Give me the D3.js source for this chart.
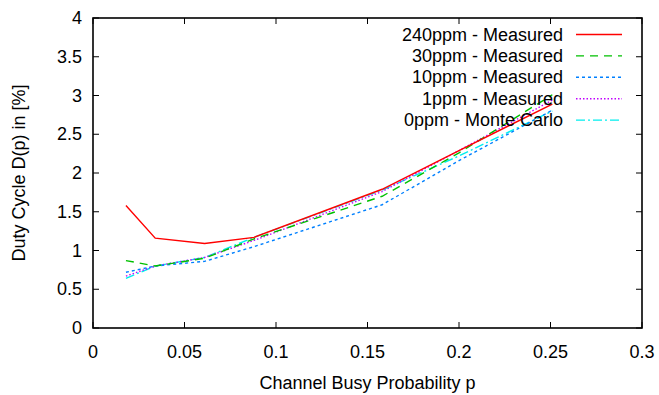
<!DOCTYPE html>
<html><head><meta charset="utf-8">
<script src="https://cdn.jsdelivr.net/npm/d3@7"></script>
<style>body{margin:0;background:#fff}svg{display:block}text{font-family:"Liberation Sans",Arial,Helvetica,sans-serif;fill:#000}</style>
</head><body><svg id="c" width="659" height="395"></svg>
<script>
const busyProb = [0.018, 0.034, 0.061, 0.088, 0.158, 0.2, 0.251];
const ppm240 = [1.58, 1.16, 1.09, 1.17, 1.79, 2.29, 2.89];
const ppm30  = [0.87, 0.80, 0.90, 1.15, 1.70, 2.26, 3.01];
const ppm10  = [0.72, 0.80, 0.86, 1.05, 1.59, 2.16, 2.81];
const ppm1   = [0.67, 0.80, 0.91, 1.13, 1.76, 2.29, 2.94];
const ppm0mc = [0.64, 0.80, 0.91, 1.17, 1.78, 2.22, 2.80];
const seriesNames = ["240ppm - Measured","30ppm - Measured","10ppm - Measured","1ppm - Measured","0ppm - Monte Carlo"];
const xTicks = [0,0.05,0.1,0.15,0.2,0.25,0.3];
const yTicks = [0,0.5,1,1.5,2,2.5,3,3.5,4];

const series = [
  {name: seriesNames[0], vals: ppm240, color:"#ff0000", dash:null},
  {name: seriesNames[1], vals: ppm30,  color:"#00c000", dash:"8,6"},
  {name: seriesNames[2], vals: ppm10,  color:"#0080ff", dash:"3,3"},
  {name: seriesNames[3], vals: ppm1,   color:"#c000ff", dash:"1.5,2"},
  {name: seriesNames[4], vals: ppm0mc, color:"#00eeee", dash:"9,3,2,3"}
];

const L=93, R=642, T=18, B=328;
const svg = d3.select("#c");
const x = d3.scaleLinear().domain([0,0.3]).range([L,R]);
const y = d3.scaleLinear().domain([0,4]).range([B,T]);
const fs = 18;

const tk = svg.append("g").attr("stroke","#000").attr("stroke-width",1);
xTicks.forEach(v=>{
  tk.append("line").attr("x1",x(v)).attr("x2",x(v)).attr("y1",B).attr("y2",B-6);
  tk.append("line").attr("x1",x(v)).attr("x2",x(v)).attr("y1",T).attr("y2",T+6);
});
yTicks.forEach(v=>{
  tk.append("line").attr("x1",L).attr("x2",L+6).attr("y1",y(v)).attr("y2",y(v));
  tk.append("line").attr("x1",R).attr("x2",R-6).attr("y1",y(v)).attr("y2",y(v));
});
svg.selectAll(".xl").data(xTicks).enter().append("text")
  .attr("x",d=>x(d)).attr("y",B+30).attr("text-anchor","middle").attr("font-size",fs).text(d=>d3.format("")(d));
svg.selectAll(".yl").data(yTicks).enter().append("text")
  .attr("x",L-11).attr("y",d=>y(d)+6).attr("text-anchor","end").attr("font-size",fs).text(d=>d3.format("")(d));

svg.append("text").attr("x",(L+R)/2).attr("y",389).attr("text-anchor","middle").attr("font-size",fs)
  .text("Channel Busy Probability p");
svg.append("text").attr("transform",`translate(25,${(T+B)/2}) rotate(-90)`).attr("text-anchor","middle").attr("font-size",fs)
  .text("Duty Cycle D(p) in [%]");

const line = d3.line().x((d,i)=>x(busyProb[i])).y(d=>y(d));
series.slice().reverse().forEach(s=>{
  svg.append("path").attr("d",line(s.vals)).attr("fill","none").attr("stroke",s.color)
    .attr("stroke-width",1.4).attr("stroke-dasharray",s.dash);
});

series.forEach((s,i)=>{
  const ly = 34.5 + i*21.4;
  svg.append("text").attr("x",563).attr("y",ly+6).attr("text-anchor","end").attr("font-size",fs).text(s.name);
  svg.append("line").attr("x1",576).attr("x2",622).attr("y1",ly).attr("y2",ly)
    .attr("stroke",s.color).attr("stroke-width",1.4).attr("stroke-dasharray",s.dash);
});

svg.append("rect").attr("x",L).attr("y",T).attr("width",R-L).attr("height",B-T)
  .attr("fill","none").attr("stroke","#000").attr("stroke-width",1.6);
</script></body></html>
